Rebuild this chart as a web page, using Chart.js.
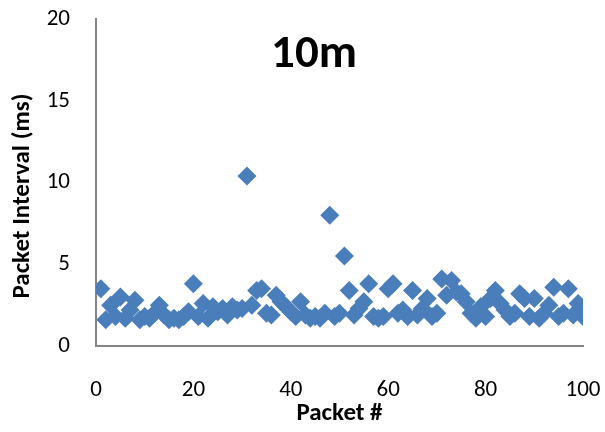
<!DOCTYPE html>
<html>
<head>
<meta charset="utf-8">
<script src="https://cdn.jsdelivr.net/npm/chart.js@4.4.1/dist/chart.umd.min.js"></script>
<style>
  html, body { margin: 0; padding: 0; background: #fff; }
  #wrap { width: 605px; height: 432px; position: relative; }
</style>
</head>
<body>
<div id="wrap"><canvas id="c"></canvas></div>
<script>
// Packet interval scatter, 10 m distance
const packetNo = Array.from({ length: 100 }, (_, i) => i + 1);
const intervalMs = [
  3.5, 1.6, 2.5, 1.8, 3.0, 1.7, 2.2, 2.8, 1.6, 1.8,
  1.7, 2.0, 2.5, 1.9, 1.6, 1.7, 1.6, 1.8, 2.1, 3.8,
  1.8, 2.6, 1.7, 2.4, 2.1, 2.3, 1.9, 2.4, 2.2, 2.3,
  10.4, 2.5, 3.4, 3.5, 2.0, 1.9, 3.1, 2.7, 2.4, 2.1,
  1.8, 2.7, 1.9, 1.7, 1.8, 1.7, 2.0, 8.0, 1.8, 2.0,
  5.5, 3.4, 1.9, 2.3, 2.7, 3.8, 1.8, 1.7, 1.8, 3.5,
  3.8, 2.0, 2.2, 1.8, 3.4, 1.9, 2.3, 2.9, 1.8, 2.0,
  4.1, 3.1, 4.0, 3.3, 3.2, 2.7, 2.0, 1.7, 2.4, 1.8,
  2.9, 3.4, 2.6, 2.2, 1.8, 2.0, 3.2, 2.9, 1.8, 2.9,
  1.7, 2.0, 2.5, 3.6, 1.8, 2.0, 3.5, 1.9, 2.6, 1.8,
];
const chartTitle = '10m';
const xTitle = 'Packet #';
const yTitle = 'Packet Interval (ms)';

const FONT = 'Carlito, Calibri, Lato, "Open Sans", sans-serif';
const MARKER = '#4A7EBB';
const AXIS = '#868686';

// chart title sits inside the plot area and the y title is off-centre,
// so both are drawn here
const extraText = {
  id: 'extraText',
  afterDraw(chart) {
    const { ctx } = chart;
    ctx.save();
    ctx.fillStyle = '#000';
    ctx.textAlign = 'center';
    ctx.textBaseline = 'middle';
    ctx.font = `bold 47px ${FONT}`;
    ctx.fillText(chartTitle, 314, 55);
    ctx.translate(23, 196);
    ctx.rotate(-Math.PI / 2);
    ctx.font = `bold 25px ${FONT}`;
    ctx.fillText(yTitle, 0, 0);
    ctx.restore();
  },
};

new Chart(document.getElementById('c'), {
  type: 'scatter',
  data: {
    datasets: [{
      data: packetNo.map((x, i) => ({ x, y: intervalMs[i] })),
      pointStyle: 'rectRot',
      pointRadius: 9.5,
      pointHoverRadius: 9.5,
      backgroundColor: MARKER,
      borderColor: MARKER,
      borderWidth: 0,
    }],
  },
  options: {
    responsive: true,
    maintainAspectRatio: false,
    animation: false,
    layout: { padding: 0 },
    plugins: { legend: { display: false }, tooltip: { enabled: false } },
    scales: {
      x: {
        type: 'linear', min: 0, max: 100,
        afterFit: (s) => { s.height = 86; s.paddingLeft = 0; s.paddingRight = 22; },
        grid: { display: false, drawTicks: false },
        border: { display: true, color: AXIS, width: 2 },
        ticks: { stepSize: 20, padding: 30, color: '#000', font: { family: FONT, size: 23 } },
        title: { display: true, text: xTitle, color: '#000', padding: { top: 0, bottom: 3 },
          font: { family: FONT, size: 25, weight: 'bold' } },
      },
      y: {
        type: 'linear', min: 0, max: 20,
        afterFit: (s) => { s.width = 96; s.paddingTop = 19; s.paddingBottom = 0; },
        grid: { display: false, drawTicks: false },
        border: { display: true, color: AXIS, width: 2 },
        ticks: { stepSize: 5, padding: 26, color: '#000', font: { family: FONT, size: 23 } },
      },
    },
  },
  plugins: [extraText],
});
</script>
</body>
</html>
